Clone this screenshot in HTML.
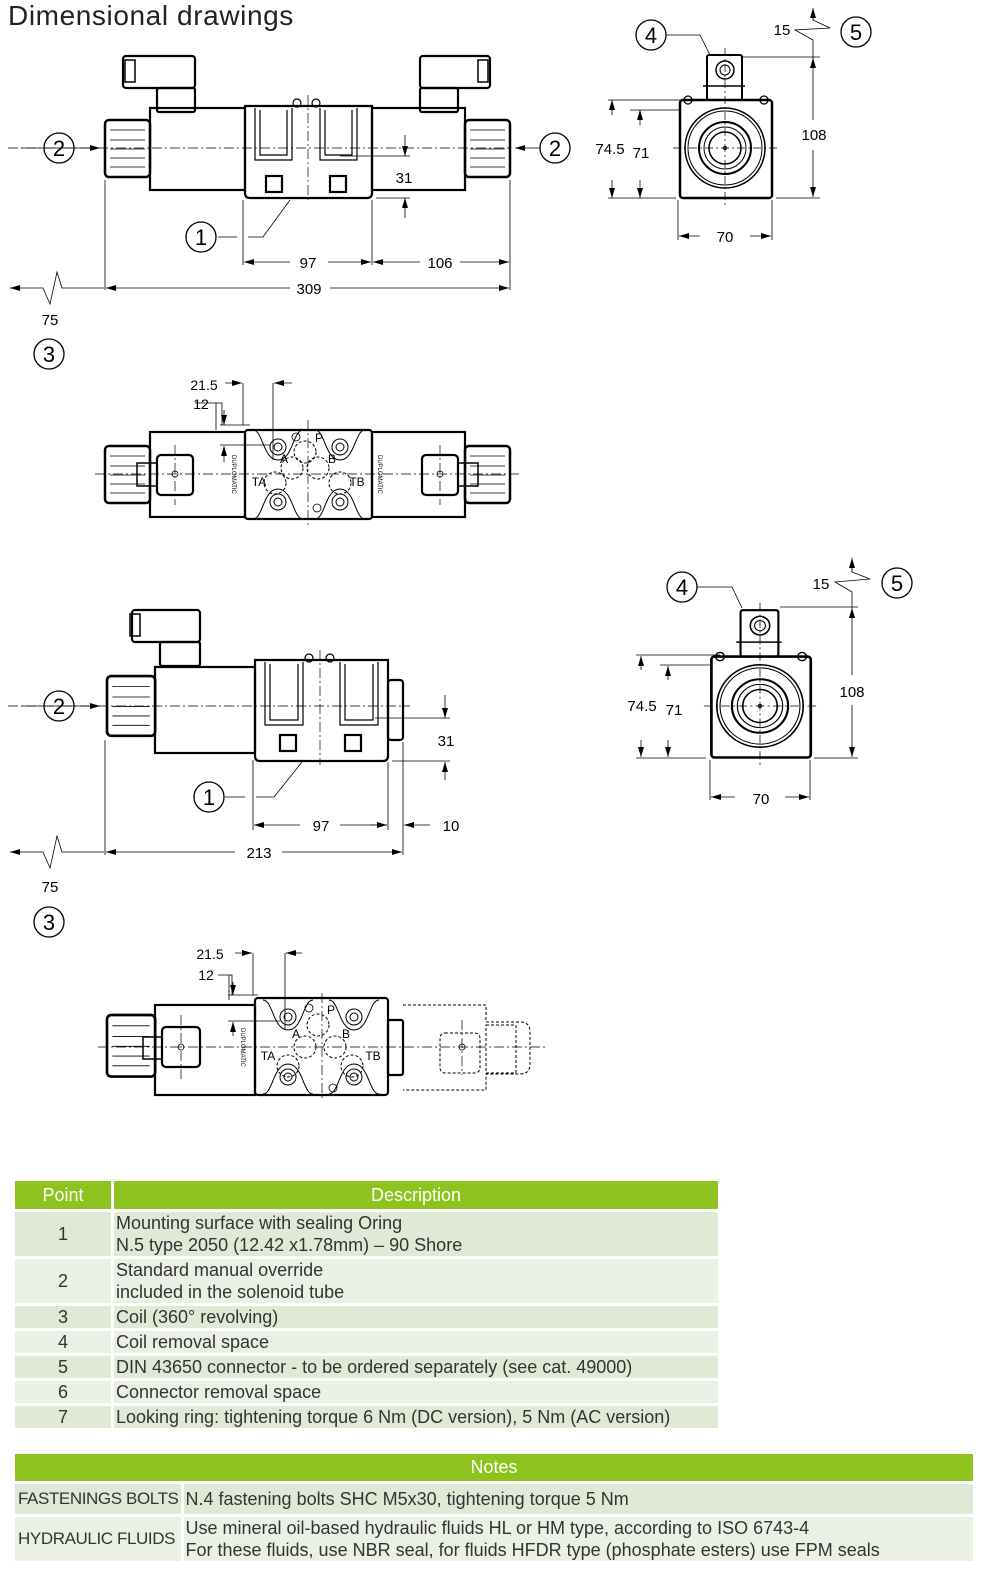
<!DOCTYPE html>
<html><head><meta charset="utf-8"><style>
body{margin:0;background:#fff;width:1000px;height:1578px;position:relative;overflow:hidden;font-family:"Liberation Sans",sans-serif}
h1{position:absolute;left:8px;top:0;margin:0;font-size:28px;font-weight:normal;color:#222;letter-spacing:0.6px}
svg{position:absolute;left:0;top:0}
table{position:absolute;border-collapse:separate;border-spacing:3px;color:#333;font-size:18px}
th{background:#8dc21f;color:#fff;font-weight:normal;font-size:18px;height:28px;padding:0}
td{padding:0 2px;line-height:22px;white-space:nowrap}
tr.a td{background:#e0e8d6}tr.b td{background:#ebf0e5}
td.k{font-size:17px;letter-spacing:-0.4px;padding-left:3px}
</style></head><body>
<h1>Dimensional drawings</h1>
<svg width="1000" height="1140" viewBox="0 0 1000 1140" font-family="Liberation Sans,sans-serif" fill="none" stroke="#000">
<defs>
<marker id="ar" viewBox="0 0 10 6" refX="10" refY="3" markerWidth="10" markerHeight="6" orient="auto-start-reverse" markerUnits="userSpaceOnUse"><path d="M0,0L10,3L0,6z" fill="#000" stroke="none"/></marker>
<g id="side">
<rect x="-45" y="-48" width="92" height="98" rx="3" stroke-width="2.5"/>
<rect x="-18" y="-93" width="35" height="45" rx="2" stroke-width="2"/>
<line x1="-22" y1="-62" x2="20" y2="-62" stroke-width="1.5"/>
<circle cx="0" cy="-78" r="9" stroke-width="1.5"/><circle cx="0" cy="-78" r="5"/>
<circle cx="-37" cy="-48" r="4" stroke-width="1.3"/><circle cx="39" cy="-48" r="4" stroke-width="1.3"/>
<circle r="40" stroke-width="1.5"/><circle r="37"/><circle r="26" stroke-width="2"/><circle r="21"/><circle r="16" stroke-width="1.5"/><circle r="1.5"/>
<line x1="-52" y1="0" x2="55" y2="0" stroke-width="0.7" stroke-dasharray="8 3 2 3"/>
<line x1="0" y1="-100" x2="0" y2="60" stroke-width="0.7" stroke-dasharray="8 3 2 3"/>
</g>
<g id="knob"><rect x="0" y="0" width="45" height="57" rx="4" stroke-width="2.5"/><path d="M5 10H40M5 20H40M5 29H40M5 38H40M5 47H40" stroke-width="0.8"/></g>
<g id="mount" stroke-width="1">
<path d="M0 0c10 0 10 30 25 30c15 0 15-30 25-30" />
<circle cx="25" cy="17" r="8"/><circle cx="25" cy="17" r="4"/>
</g>
</defs>

<g stroke-width="2.2">
<rect x="150" y="108" width="95" height="82"/>
<rect x="372" y="108" width="93" height="82"/>
<path d="M245 106H372V193q0 5-5 5H250q-5 0-5-5z"/>
<rect x="123" y="56" width="72" height="32" rx="3"/><rect x="157" y="88" width="38" height="24" rx="2"/>
<rect x="420" y="56" width="70" height="32" rx="3"/><rect x="420" y="88" width="38" height="24" rx="2"/>
<rect x="125" y="60" width="10" height="22" stroke-width="1.5"/><rect x="478" y="60" width="10" height="22" stroke-width="1.5"/>
<rect x="266" y="176" width="16" height="16"/><rect x="330" y="176" width="16" height="16"/>
</g>
<use href="#knob" x="105" y="120"/><use href="#knob" x="465" y="120"/>
<g stroke-width="1.2">
<path d="M255 108V160H292V108M260 110V155H287V110M320 108V160H357V108M325 110V155H352V110"/>
<circle cx="297" cy="103" r="4"/><circle cx="316" cy="103" r="4"/>
</g>
<g stroke-width="0.7" stroke-dasharray="10 3 2 3">
<line x1="8" y1="148" x2="510" y2="148"/><line x1="308" y1="95" x2="308" y2="200"/>
</g>
<g stroke-width="0.8">
<line x1="22" y1="148" x2="100" y2="148" marker-end="url(#ar)"/><line x1="540" y1="148" x2="515" y2="148" marker-end="url(#ar)"/>
<path d="M105 180V290M510 180V290M243 200V265M372 200V265"/>
<line x1="340" y1="156" x2="410" y2="156"/>
<line x1="405" y1="135" x2="405" y2="156" marker-end="url(#ar)"/><line x1="405" y1="218" x2="405" y2="198" marker-end="url(#ar)"/>
<line x1="376" y1="198" x2="410" y2="198"/>
<line x1="290" y1="262" x2="244" y2="262" marker-end="url(#ar)"/><line x1="328" y1="262" x2="371" y2="262" marker-end="url(#ar)"/>
<line x1="420" y1="262" x2="373" y2="262" marker-end="url(#ar)"/><line x1="460" y1="262" x2="509" y2="262" marker-end="url(#ar)"/>
<line x1="290" y1="288" x2="106" y2="288" marker-end="url(#ar)"/><line x1="330" y1="288" x2="509" y2="288" marker-end="url(#ar)"/>
<path d="M10 288H43L50 304L57 272L62 288H104"/><line x1="20" y1="288" x2="10" y2="288" marker-end="url(#ar)"/>
<path d="M218 237H237M248 237H263L290 200"/>
</g>
<g fill="none" stroke-width="1.3"><circle cx="59" cy="148" r="15"/><circle cx="555" cy="148" r="15"/><circle cx="201" cy="237" r="15"/><circle cx="49" cy="354" r="15"/></g>
<g fill="#000" stroke="none" font-size="15" text-anchor="middle">
<text x="308" y="268">97</text><text x="440" y="268">106</text><text x="309" y="294">309</text><text x="50" y="325">75</text><text x="404" y="183">31</text>
</g>
<g fill="#000" stroke="none" font-size="22" text-anchor="middle">
<text x="59" y="156">2</text><text x="555" y="156">2</text><text x="201" y="245">1</text><text x="49" y="362">3</text>
</g>

<use href="#side" x="725" y="148"/>
<g stroke-width="0.8">
<path d="M608 100H690M630 110H680M742 57H820M776 198H820"/>
<line x1="612" y1="115" x2="612" y2="100" marker-end="url(#ar)"/><line x1="612" y1="180" x2="612" y2="198" marker-end="url(#ar)"/>
<line x1="640" y1="125" x2="640" y2="110" marker-end="url(#ar)"/><line x1="640" y1="180" x2="640" y2="198" marker-end="url(#ar)"/>
<line x1="608" y1="198" x2="676" y2="198"/>
<line x1="813" y1="120" x2="813" y2="58" marker-end="url(#ar)"/><line x1="813" y1="150" x2="813" y2="197" marker-end="url(#ar)"/>
<path d="M813 58V40L795 30L830 28L813 20V10"/><line x1="813" y1="20" x2="813" y2="8" marker-end="url(#ar)"/>
<path d="M678 200V240M772 200V240"/>
<line x1="700" y1="236" x2="679" y2="236" marker-end="url(#ar)"/><line x1="750" y1="236" x2="771" y2="236" marker-end="url(#ar)"/>
<path d="M666 35H700L710 55"/>
</g>
<g stroke-width="1.3"><circle cx="651" cy="35" r="15"/><circle cx="856" cy="32" r="15"/></g>
<g fill="#000" stroke="none" font-size="15" text-anchor="middle">
<text x="610" y="154">74.5</text><text x="641" y="158">71</text><text x="814" y="140">108</text><text x="782" y="35">15</text><text x="725" y="242">70</text>
</g>
<g fill="#000" stroke="none" font-size="22" text-anchor="middle"><text x="651" y="43">4</text><text x="856" y="40">5</text></g>

<g stroke-width="2.2">
<rect x="150" y="432" width="95" height="85"/><rect x="372" y="432" width="93" height="85"/>
<rect x="245" y="430" width="127" height="89" rx="3"/>
<rect x="157" y="455" width="36" height="40" rx="4"/><rect x="422" y="455" width="36" height="40" rx="4"/>
<rect x="137" y="463" width="20" height="23" stroke-width="1.5"/><rect x="458" y="463" width="20" height="23" stroke-width="1.5"/>
</g>
<use href="#knob" x="105" y="446"/><use href="#knob" x="465" y="446"/>
<use href="#mount" x="253" y="430"/><use href="#mount" x="315" y="430"/>
<use href="#mount" transform="translate(253 519) scale(1 -1)"/><use href="#mount" transform="translate(315 519) scale(1 -1)"/>
<g stroke-width="1" stroke-dasharray="3 2">
<circle cx="305" cy="452" r="11"/><circle cx="292" cy="468" r="11"/><circle cx="318" cy="468" r="11"/><circle cx="275" cy="483" r="11"/><circle cx="340" cy="483" r="11"/>
</g>
<g stroke-width="0.8"><circle cx="296" cy="437" r="4"/><circle cx="317" cy="508" r="4"/><circle cx="175" cy="474" r="3"/><circle cx="440" cy="474" r="3"/></g>
<g stroke-width="0.7" stroke-dasharray="10 3 2 3"><line x1="95" y1="474" x2="520" y2="474"/><line x1="308" y1="420" x2="308" y2="528"/><line x1="175" y1="445" x2="175" y2="505"/><line x1="440" y1="445" x2="440" y2="505"/></g>
<g stroke-width="0.8">
<path d="M243 383V425M273 383V460M216 403V430"/>
<line x1="225" y1="383" x2="242" y2="383" marker-end="url(#ar)"/><line x1="292" y1="383" x2="274" y2="383" marker-end="url(#ar)"/>
<path d="M195 403H222V425"/><path d="M220 425H250M220 445H270"/>
<line x1="224" y1="410" x2="224" y2="425" marker-end="url(#ar)"/><line x1="224" y1="462" x2="224" y2="446" marker-end="url(#ar)"/>
</g>
<g fill="#000" stroke="none" font-size="14" text-anchor="middle">
<text x="204" y="390">21.5</text><text x="201" y="409">12</text>
<text x="319" y="442" font-size="12">P</text><text x="284" y="463" font-size="12">A</text><text x="332" y="463" font-size="12">B</text><text x="259" y="486" font-size="12">TA</text><text x="357" y="486" font-size="12">TB</text>
</g>
<g fill="#000" stroke="none" font-size="6"><text transform="translate(232 455) rotate(90)">DUPLOMATIC</text><text transform="translate(378 455) rotate(90)">DUPLOMATIC</text></g>

<g stroke-width="2.2">
<rect x="155" y="667" width="100" height="86"/>
<path d="M255 660H388V756q0 5-5 5H260q-5 0-5-5z"/>
<rect x="388" y="680" width="15" height="60" rx="3"/>
<rect x="132" y="610" width="68" height="32" rx="3"/><rect x="160" y="642" width="40" height="24" rx="2"/>
<rect x="130" y="614" width="10" height="22" stroke-width="1.5"/>
<rect x="280" y="735" width="16" height="16"/><rect x="345" y="735" width="16" height="16"/>
</g>
<use href="#knob" transform="translate(107 676) scale(1.07 1.05)"/>
<g stroke-width="1.2">
<path d="M265 662V725H303V662M270 664V720H298V664M340 662V725H378V662M345 664V720H373V664"/>
<circle cx="309" cy="658" r="4"/><circle cx="330" cy="658" r="4"/>
</g>
<g stroke-width="0.7" stroke-dasharray="10 3 2 3"><line x1="8" y1="706" x2="410" y2="706"/><line x1="320" y1="650" x2="320" y2="765"/></g>
<g stroke-width="0.8">
<line x1="22" y1="706" x2="100" y2="706" marker-end="url(#ar)"/>
<path d="M105 740V855M253 760V830M388 762V830M403 742V855"/>
<line x1="375" y1="718" x2="450" y2="718"/><line x1="392" y1="761" x2="450" y2="761"/>
<line x1="445" y1="695" x2="445" y2="718" marker-end="url(#ar)"/><line x1="445" y1="780" x2="445" y2="762" marker-end="url(#ar)"/>
<line x1="300" y1="825" x2="254" y2="825" marker-end="url(#ar)"/><line x1="340" y1="825" x2="387" y2="825" marker-end="url(#ar)"/>
<line x1="370" y1="825" x2="387" y2="825"/><line x1="430" y1="825" x2="404" y2="825" marker-end="url(#ar)"/>
<line x1="235" y1="852" x2="106" y2="852" marker-end="url(#ar)"/><line x1="282" y1="852" x2="402" y2="852" marker-end="url(#ar)"/>
<path d="M10 852H43L50 868L57 836L62 852H104"/><line x1="20" y1="852" x2="10" y2="852" marker-end="url(#ar)"/>
<path d="M225 797H245M256 797H274L302 762"/>
</g>
<g stroke-width="1.3"><circle cx="59" cy="706" r="15"/><circle cx="209" cy="797" r="15"/><circle cx="49" cy="922" r="15"/></g>
<g fill="#000" stroke="none" font-size="15" text-anchor="middle">
<text x="321" y="831">97</text><text x="451" y="831">10</text><text x="259" y="858">213</text><text x="50" y="892">75</text><text x="446" y="746">31</text>
</g>
<g fill="#000" stroke="none" font-size="22" text-anchor="middle"><text x="59" y="714">2</text><text x="209" y="805">1</text><text x="49" y="930">3</text></g>

<use href="#side" transform="translate(760 706) scale(1.08 1.03)"/>
<g stroke-width="0.8">
<path d="M636 655H720M660 665H710M780 607H858M814 758H858"/>
<line x1="641" y1="670" x2="641" y2="656" marker-end="url(#ar)"/><line x1="641" y1="740" x2="641" y2="757" marker-end="url(#ar)"/>
<line x1="668" y1="680" x2="668" y2="666" marker-end="url(#ar)"/><line x1="668" y1="740" x2="668" y2="757" marker-end="url(#ar)"/>
<line x1="636" y1="758" x2="706" y2="758"/>
<line x1="852" y1="675" x2="852" y2="608" marker-end="url(#ar)"/><line x1="852" y1="705" x2="852" y2="757" marker-end="url(#ar)"/>
<path d="M852 608V592L835 582L870 579L852 572V562"/><line x1="852" y1="572" x2="852" y2="558" marker-end="url(#ar)"/>
<path d="M710 760V800M810 760V800"/>
<line x1="735" y1="797" x2="711" y2="797" marker-end="url(#ar)"/><line x1="785" y1="797" x2="809" y2="797" marker-end="url(#ar)"/>
<path d="M697 587H732L742 608"/>
</g>
<g stroke-width="1.3"><circle cx="682" cy="587" r="15"/><circle cx="897" cy="583" r="15"/></g>
<g fill="#000" stroke="none" font-size="15" text-anchor="middle">
<text x="642" y="711">74.5</text><text x="674" y="715">71</text><text x="852" y="697">108</text><text x="821" y="589">15</text><text x="761" y="804">70</text>
</g>
<g fill="#000" stroke="none" font-size="22" text-anchor="middle"><text x="682" y="595">4</text><text x="897" y="591">5</text></g>

<g stroke-width="2.2">
<rect x="155" y="1005" width="100" height="90"/>
<rect x="255" y="998" width="133" height="97" rx="3"/>
<rect x="388" y="1020" width="15" height="55" rx="2"/>
<rect x="162" y="1027" width="38" height="40" rx="4"/><rect x="143" y="1037" width="19" height="22" stroke-width="1.5"/>
</g>
<use href="#knob" transform="translate(107 1015) scale(1.07 1.08)"/>
<use href="#mount" x="263" y="1000"/><use href="#mount" x="329" y="1000"/>
<use href="#mount" transform="translate(263 1094) scale(1 -1)"/><use href="#mount" transform="translate(329 1094) scale(1 -1)"/>
<g stroke-width="1" stroke-dasharray="3 2">
<circle cx="318" cy="1025" r="11"/><circle cx="305" cy="1047" r="11"/><circle cx="335" cy="1047" r="11"/><circle cx="288" cy="1066" r="11"/><circle cx="352" cy="1066" r="11"/>
<path d="M403 1005H486V1022H520Q530 1022 530 1032V1064Q530 1074 520 1074H486V1090H403"/>
<rect x="440" y="1033" width="40" height="40" rx="5"/><rect x="486" y="1025" width="30" height="48"/>
</g>
<g stroke-width="0.8"><circle cx="309" cy="1008" r="4"/><circle cx="333" cy="1088" r="4"/><circle cx="181" cy="1047" r="3"/><circle cx="462" cy="1047" r="3"/></g>
<g stroke-width="0.7" stroke-dasharray="10 3 2 3"><line x1="98" y1="1047" x2="545" y2="1047"/><line x1="322" y1="993" x2="322" y2="1100"/><line x1="181" y1="1015" x2="181" y2="1080"/><line x1="462" y1="1020" x2="462" y2="1075"/></g>
<g stroke-width="0.8">
<path d="M253 953V995M285 953V1030M229 975V1000"/>
<line x1="235" y1="953" x2="252" y2="953" marker-end="url(#ar)"/><line x1="302" y1="953" x2="286" y2="953" marker-end="url(#ar)"/>
<path d="M218 975H232V995"/><path d="M228 995H258M228 1021H280"/>
<line x1="233" y1="982" x2="233" y2="995" marker-end="url(#ar)"/><line x1="233" y1="1036" x2="233" y2="1022" marker-end="url(#ar)"/>
</g>
<g fill="#000" stroke="none" font-size="14" text-anchor="middle">
<text x="210" y="959">21.5</text><text x="206" y="980">12</text>
<text x="331" y="1014" font-size="12">P</text><text x="296" y="1038" font-size="12">A</text><text x="346" y="1038" font-size="12">B</text><text x="268" y="1060" font-size="12">TA</text><text x="373" y="1060" font-size="12">TB</text>
</g>
<g fill="#000" stroke="none" font-size="6"><text transform="translate(241 1028) rotate(90)">DUPLOMATIC</text></g>
</svg>

<table style="left:12px;top:1178px;width:709px">
<tr><th style="width:96px">Point</th><th>Description</th></tr>
<tr class="a"><td style="text-align:center;height:44px">1</td><td>Mounting surface with sealing Oring<br>N.5 type 2050 (12.42 x1.78mm) – 90 Shore</td></tr>
<tr class="b"><td style="text-align:center;height:44px">2</td><td>Standard manual override<br>included in the solenoid tube</td></tr>
<tr class="a"><td style="text-align:center">3</td><td>Coil (360° revolving)</td></tr>
<tr class="b"><td style="text-align:center">4</td><td>Coil removal space</td></tr>
<tr class="a"><td style="text-align:center">5</td><td>DIN 43650 connector - to be ordered separately (see cat. 49000)</td></tr>
<tr class="b"><td style="text-align:center">6</td><td>Connector removal space</td></tr>
<tr class="a"><td style="text-align:center">7</td><td>Looking ring: tightening torque 6 Nm (DC version), 5 Nm (AC version)</td></tr>
</table>

<table style="left:12px;top:1451px;width:964px">
<tr><th colspan="2" style="height:27px">Notes</th></tr>
<tr class="a"><td class="k" style="width:160px;height:30px">FASTENINGS BOLTS</td><td>N.4 fastening bolts SHC M5x30, tightening torque 5 Nm</td></tr>
<tr class="b"><td class="k" style="height:44px">HYDRAULIC FLUIDS</td><td>Use mineral oil-based hydraulic fluids HL or HM type, according to ISO 6743-4<br>For these fluids, use NBR seal, for fluids HFDR type (phosphate esters) use FPM seals</td></tr>
</table>
</body></html>
